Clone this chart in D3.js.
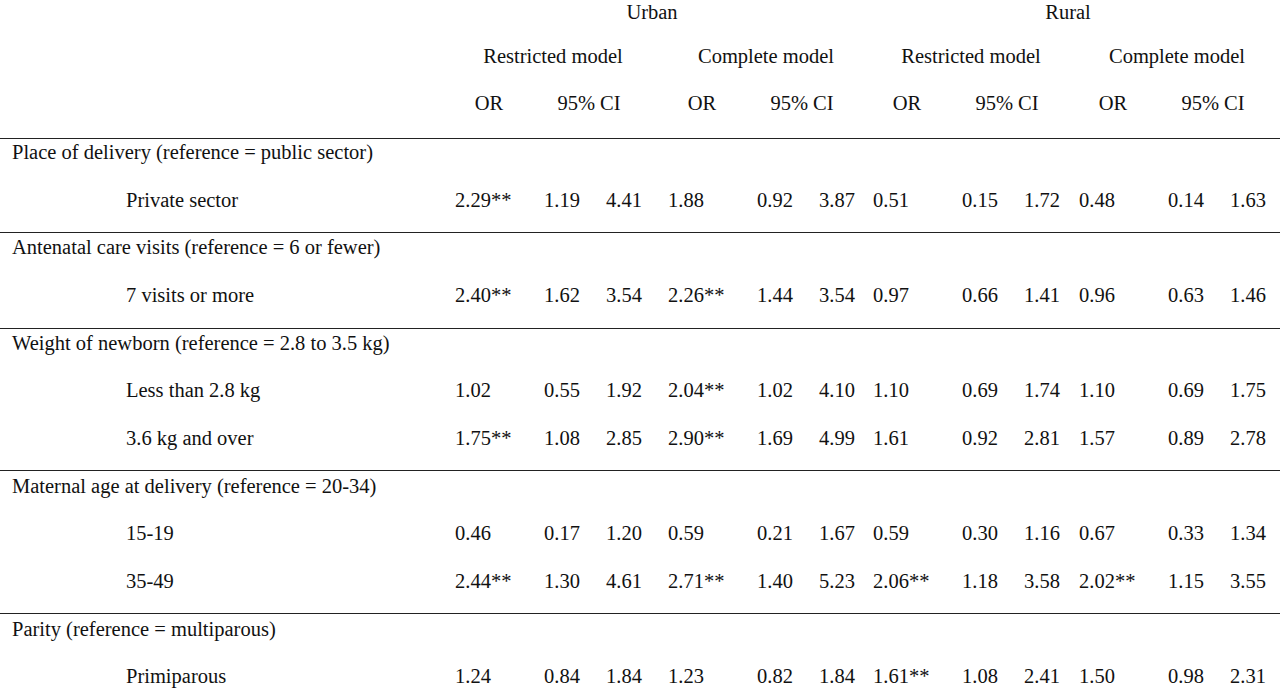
<!DOCTYPE html>
<html><head><meta charset="utf-8">
<script src="https://cdn.jsdelivr.net/npm/d3@7"></script>
<style>body{margin:0;background:#fff}text{font-family:"Liberation Serif","Times New Roman",serif;font-size:20.5px;fill:#111}</style>
</head><body><svg id="c" width="1280" height="689"></svg>
<script>
const areas=["Urban","Rural"];
const models=["Restricted model","Complete model","Restricted model","Complete model"];
const colHeads=["OR","95% CI"];
const groups=["Place of delivery (reference = public sector)","Antenatal care visits (reference = 6 or fewer)","Weight of newborn (reference = 2.8 to 3.5 kg)","Maternal age at delivery (reference = 20-34)","Parity (reference = multiparous)"];
const rowGroup=[0,1,2,2,3,3,4];
const rowLabels=["Private sector","7 visits or more","Less than 2.8 kg","3.6 kg and over","15-19","35-49","Primiparous"];
const values=[
["2.29**","1.19","4.41","1.88","0.92","3.87","0.51","0.15","1.72","0.48","0.14","1.63"],
["2.40**","1.62","3.54","2.26**","1.44","3.54","0.97","0.66","1.41","0.96","0.63","1.46"],
["1.02","0.55","1.92","2.04**","1.02","4.10","1.10","0.69","1.74","1.10","0.69","1.75"],
["1.75**","1.08","2.85","2.90**","1.69","4.99","1.61","0.92","2.81","1.57","0.89","2.78"],
["0.46","0.17","1.20","0.59","0.21","1.67","0.59","0.30","1.16","0.67","0.33","1.34"],
["2.44**","1.30","4.61","2.71**","1.40","5.23","2.06**","1.18","3.58","2.02**","1.15","3.55"],
["1.24","0.84","1.84","1.23","0.82","1.84","1.61**","1.08","2.41","1.50","0.98","2.31"]];
const svg=d3.select("#c");
const blockX=d3.scaleOrdinal().domain([0,1,2,3]).range([455,668,873,1079]);
const cellOff=d3.scaleOrdinal().domain([0,1,2]).range([0,89,151]);
const lines=[];let prev=-1;
rowGroup.forEach((g,i)=>{if(g!==prev){lines.push({type:"g",g});prev=g;}lines.push({type:"r",i});});
const y=d3.scaleLinear().domain([0,lines.length-1]).range([152,676]);
svg.selectAll(".area").data(areas).join("text").attr("x",(d,i)=>[652,1068][i]).attr("y",12).attr("text-anchor","middle").attr("dy","0.35em").text(d=>d);
svg.selectAll(".model").data(models).join("text").attr("x",(d,i)=>blockX(i)+98).attr("y",56).attr("text-anchor","middle").attr("dy","0.35em").text(d=>d);
const ch=[];models.forEach((m,i)=>colHeads.forEach((c,j)=>ch.push({i,j,c})));
svg.selectAll(".ch").data(ch).join("text").attr("x",d=>blockX(d.i)+(d.j?134:34)).attr("y",103).attr("text-anchor","middle").attr("dy","0.35em").text(d=>d.c);
const rule=yy=>svg.append("line").attr("x1",0).attr("x2",1280).attr("y1",yy).attr("y2",yy).attr("stroke","#222").attr("stroke-width",1);
rule(138.5);
lines.forEach((l,k)=>{
  const yy=y(k);
  if(l.type==="g"){
    if(k>0) rule(Math.round(yy-15)+0.5);
    svg.append("text").attr("x",12).attr("y",yy).attr("dy","0.35em").text(groups[l.g]);
  } else {
    svg.append("text").attr("x",126).attr("y",yy).attr("dy","0.35em").text(rowLabels[l.i]);
    svg.selectAll(null).data(values[l.i]).join("text")
      .attr("x",(d,j)=>blockX(Math.floor(j/3))+cellOff(j%3)).attr("y",yy).attr("dy","0.35em").text(d=>d);
  }
});
</script></body></html>
